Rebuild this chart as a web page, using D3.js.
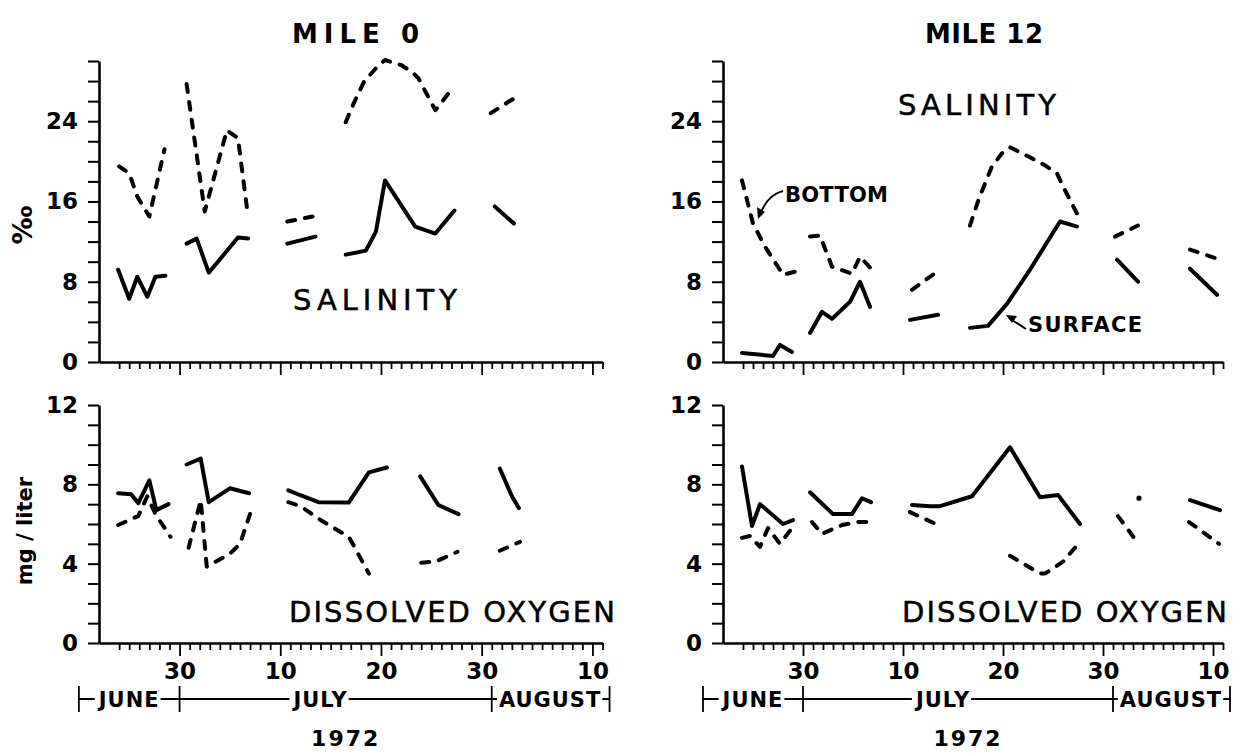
<!DOCTYPE html>
<html><head><meta charset="utf-8">
<script src="https://cdn.jsdelivr.net/npm/d3@7"></script>
<style>
body{margin:0;background:#fff;}
svg text{font-family:"DejaVu Sans",sans-serif;fill:#000;}
</style></head><body>
<svg id="c" width="1233" height="753"></svg>
<script>
// ---------- data (day = day-of-June: June 30 = 30, July 10 = 40, Aug 10 = 71) ----------
const dayTicks = d3.range(24, 73);
const majorDays = [30, 40, 50, 60, 71];
const majorLabels = ["30", "10", "20", "30", "10"];
const salTicks = d3.range(0, 31, 2);
const salLabels = [0, 8, 16, 24];
const doTicks = d3.range(0, 13, 1);
const doLabels = [0, 4, 8, 12];
const monthNames = ["JUNE", "JULY", "AUGUST"];
const monthBounds = [20, 30, 61, 72.7];
const monthCenters = [25, 44, 66.8];
const yearLabel = "1972";
const titles = ["MILE 0", "MILE 12"];

// MILE 0 salinity (‰)
const m0SalBottom = [[24.0,19.5],[25.0,18.8],[25.8,16.5],[27.0,14.5],[28.5,21.2],null,
  [30.7,27.7],[32.5,15.0],[34.7,23.1],[35.8,22.3],[36.7,15.3],null,
  [40.7,14.0],[43.2,14.5],null,
  [46.5,23.9],[47.3,25.8],[48.3,27.9],[49.6,29.4],[50.4,30.1],[52.0,29.6],[53.1,28.9],[53.7,28.3],[55.4,25.1],[57.2,27.4],null,
  [60.9,24.8],[63.1,26.2]];
const m0SalSurface = [[23.9,9.2],[25.0,6.3],[25.8,8.5],[26.8,6.5],[27.6,8.5],[28.6,8.6],null,
  [30.7,11.8],[31.7,12.3],[32.9,8.9],[35.8,12.4],[36.8,12.3],null,
  [40.7,11.8],[43.5,12.5],null,
  [46.5,10.7],[48.5,11.1],[49.5,13.0],[50.4,18.1],[53.4,13.5],[55.4,12.8],[57.3,15.1],null,
  [61.3,15.5],[63.2,13.8]];
// MILE 12 salinity (‰)
const m12SalBottom = [[23.9,18.1],[25.0,13.8],[26.2,11.5],[28.0,8.7],[29.2,9.0],null,
  [30.7,12.5],[31.7,12.6],[32.9,9.5],[34.9,8.8],[35.7,10.5],[36.9,9.2],null,
  [40.9,7.2],[43.4,9.0],null,
  [46.7,13.6],[47.6,16.3],[48.9,19.5],[49.9,20.8],[50.7,21.4],[52.7,20.4],[54.2,19.6],[55.4,18.8],[56.0,17.5],[57.5,14.6],null,
  [61.2,12.5],[63.5,13.6],null,
  [68.7,11.2],[71.4,10.3]];
const m12SalSurface = [[23.9,0.9],[27.0,0.6],[27.7,1.7],[28.9,1.0],null,
  [30.7,2.9],[31.9,5.0],[32.9,4.3],[34.7,6.0],[35.7,8.0],[36.7,5.5],null,
  [40.7,4.2],[43.5,4.7],null,
  [46.7,3.4],[48.5,3.6],[50.4,5.8],[52.7,9.2],[55.7,14.0],[57.4,13.5],null,
  [61.4,10.2],[63.5,8.0],null,
  [68.7,9.3],[71.4,6.7]];
// MILE 0 dissolved oxygen (mg/liter)
const m0DoSurface = [[23.9,7.55],[25.2,7.5],[25.9,7.05],[27.0,8.2],[27.7,6.7],[28.9,7.0],null,
  [30.7,9.0],[32.1,9.3],[32.9,7.1],[35.0,7.8],[36.9,7.55],null,
  [40.8,7.7],[42.0,7.45],[43.8,7.1],[46.8,7.08],[48.8,8.6],[50.6,8.85],null,
  [53.9,8.4],[55.7,6.96],[57.7,6.5],null,
  [61.8,8.8],[63.0,7.4],[63.7,6.8]];
const m0DoBottom = [[23.9,5.95],[25.9,6.4],[26.8,7.4],[27.6,6.5],[29.1,5.35],null,
  [30.9,4.8],[32.1,7.2],[32.7,3.85],[35.0,4.5],[36.0,5.0],[37.2,6.8],null,
  [40.8,7.1],[42.0,6.9],[44.0,6.2],[46.8,5.35],[47.3,4.9],[48.8,3.5],null,
  [54.0,4.05],[55.4,4.1],[57.6,4.6],null,
  [61.8,4.65],[63.8,5.1]];
// MILE 12 dissolved oxygen (mg/liter)
const m12DoSurface = [[23.9,8.9],[24.9,5.9],[25.7,7.0],[28.0,6.0],[29.0,6.2],null,
  [30.7,7.6],[33.0,6.5],[34.9,6.5],[35.9,7.3],[36.8,7.1],null,
  [40.9,6.96],[42.7,6.9],[43.7,6.9],[46.9,7.4],[50.7,9.87],[53.7,7.35],[55.5,7.46],[57.7,6.0],null,
  [63.6,7.3],null,
  [68.7,7.2],[71.7,6.7]];
const m12DoBottom = [[23.9,5.3],[24.7,5.4],[25.7,4.85],[26.5,5.8],[27.7,5.0],[28.9,5.8],null,
  [30.9,6.1],[31.9,5.5],[33.9,5.95],[35.4,6.1],[36.7,6.1],null,
  [40.7,6.6],[43.7,5.9],null,
  [50.7,4.4],[53.7,3.5],[54.2,3.5],[56.0,4.1],[57.7,5.1],null,
  [61.5,6.4],[63.4,5.1],null,
  [68.6,6.1],[71.6,5.0]];

// ---------- layout ----------
const svg = d3.select("#c");
const xL = d3.scaleLinear().domain([22, 72]).range([99, 602.5]);
const xR = d3.scaleLinear().domain([22, 72]).range([723, 1223]);
const ySal = d3.scaleLinear().domain([0, 30]).range([362, 61]);
const yDo = d3.scaleLinear().domain([0, 12]).range([643, 405]);

function drawAxes(x, y, yt, yl, withXLabels) {
  const gy = svg.append("g").attr("transform", `translate(${x.range()[0]},0)`)
    .call(d3.axisLeft(y).tickValues(yt).tickSize(11).tickSizeOuter(0).tickPadding(10)
      .tickFormat(v => yl.includes(v) ? String(v) : ""));
  gy.select(".domain").attr("stroke-width", 2.6);
  gy.selectAll(".tick line").attr("stroke-width", 2);
  gy.selectAll(".tick text").attr("font-size", 23).attr("font-weight", "bold").attr("font-family", "DejaVu Sans");
  const gx = svg.append("g").attr("transform", `translate(0,${y(0)})`)
    .call(d3.axisBottom(x).tickValues(dayTicks).tickSize(7).tickSizeOuter(0).tickPadding(13)
      .tickFormat(v => { const i = majorDays.indexOf(v); return (withXLabels && i >= 0) ? majorLabels[i] : ""; }));
  gx.select(".domain").attr("stroke-width", 2.6);
  gx.selectAll(".tick line").attr("stroke-width", 1.8)
    .attr("y2", d => majorDays.includes(d) ? 13 : 7);
  gx.selectAll(".tick text").attr("font-size", 23).attr("font-weight", "bold").attr("font-family", "DejaVu Sans");
}

function drawSeries(x, y, data, dashed) {
  const line = d3.line().defined(d => d).x(d => x(d[0])).y(d => y(d[1]));
  svg.append("path").attr("d", line(data)).attr("fill", "none").attr("stroke", "#000")
    .attr("stroke-width", 4).attr("stroke-linejoin", "round").attr("stroke-linecap", "round")
    .attr("stroke-dasharray", dashed ? "8,10" : null);
  // isolated points
  data.forEach((d, i) => {
    if (d && !data[i - 1] && !data[i + 1]) {
      svg.append("circle").attr("cx", x(d[0])).attr("cy", y(d[1])).attr("r", 2.6).attr("fill", "#000");
    }
  });
}

drawAxes(xL, ySal, salTicks, salLabels, false);
drawAxes(xR, ySal, salTicks, salLabels, false);
drawAxes(xL, yDo, doTicks, doLabels, true);
drawAxes(xR, yDo, doTicks, doLabels, true);

drawSeries(xL, ySal, m0SalBottom, true);
drawSeries(xL, ySal, m0SalSurface, false);
drawSeries(xR, ySal, m12SalBottom, true);
drawSeries(xR, ySal, m12SalSurface, false);
drawSeries(xL, yDo, m0DoBottom, true);
drawSeries(xL, yDo, m0DoSurface, false);
drawSeries(xR, yDo, m12DoBottom, true);
drawSeries(xR, yDo, m12DoSurface, false);

// titles
function label(txt, x, y, size, weight, len, anchor) {
  const t = svg.append("text").attr("x", x).attr("y", y).attr("font-size", size)
    .attr("font-weight", weight).attr("text-anchor", anchor || "start").text(txt);
  if (len) t.attr("textLength", len).attr("lengthAdjust", "spacing");
  return t;
}
label(titles[0], 292, 43, 26, "bold", 127);
label(titles[1], 925, 43, 26, "bold", 118);

label("SALINITY", 293, 310, 29, "normal", 164).attr("stroke", "#000").attr("stroke-width", 0.5);
label("SALINITY", 898, 115, 29, "normal", 158).attr("stroke", "#000").attr("stroke-width", 0.5);
label("DISSOLVED OXYGEN", 289, 622, 29, "normal", 326).attr("stroke", "#000").attr("stroke-width", 0.5);
label("DISSOLVED OXYGEN", 902, 622, 29, "normal", 325).attr("stroke", "#000").attr("stroke-width", 0.5);
label("BOTTOM", 785, 202, 21, "bold", 103);
label("SURFACE", 1028, 332, 21, "bold", 114);

// arrows
svg.append("path").attr("d", "M783,191 Q767,195 760,215").attr("fill", "none").attr("stroke", "#000").attr("stroke-width", 2);
svg.append("path").attr("d", "M758,219 L757,207 L765,212 Z").attr("fill", "#000");
svg.append("path").attr("d", "M1026,329 L1009,318").attr("fill", "none").attr("stroke", "#000").attr("stroke-width", 2);
svg.append("path").attr("d", "M1006,315 L1017,316 L1012,323 Z").attr("fill", "#000");

// y-axis titles
svg.append("text").attr("transform", "translate(32,225) rotate(-90)").attr("text-anchor", "middle")
  .attr("font-size", 27).attr("font-weight", "bold").text("‰");
svg.append("text").attr("transform", "translate(32,531) rotate(-90)").attr("text-anchor", "middle")
  .attr("font-size", 21).attr("font-weight", "bold").text("mg / liter");

// month brackets
[xL, xR].forEach(x => {
  const yb = 699;
  const g = svg.append("g");
  g.append("line").attr("x1", x(monthBounds[0])).attr("x2", x(monthBounds[3])).attr("y1", yb).attr("y2", yb)
    .attr("stroke", "#000").attr("stroke-width", 1.8);
  monthBounds.forEach(b => g.append("line").attr("x1", x(b)).attr("x2", x(b)).attr("y1", yb - 13).attr("y2", yb + 13)
    .attr("stroke", "#000").attr("stroke-width", 1.8));
  monthNames.forEach((m, i) => {
    const t = g.append("text").attr("x", x(monthCenters[i])).attr("y", yb + 8).attr("text-anchor", "middle")
      .attr("font-size", 21).attr("font-weight", "bold").attr("letter-spacing", 1).text(m);
    const bb = t.node().getBBox();
    g.insert("rect", "text").attr("x", bb.x - 2).attr("y", bb.y).attr("width", bb.width + 3).attr("height", bb.height).attr("fill", "#fff");
  });
  g.append("text").attr("x", x(46.5)).attr("y", 746).attr("text-anchor", "middle")
    .attr("font-size", 22).attr("font-weight", "bold").attr("letter-spacing", 2).text(yearLabel);
});
</script>
</body></html>
